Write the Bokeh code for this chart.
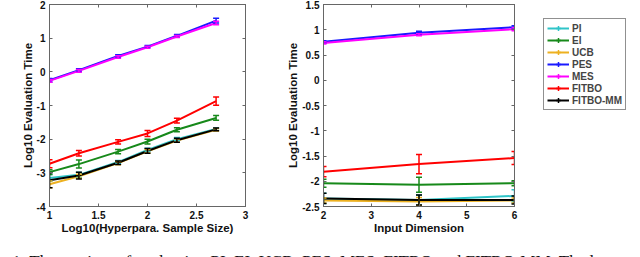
from bokeh.plotting import figure
from bokeh.layouts import row, column
from bokeh.models import (FixedTicker, PrintfTickFormatter, LinearAxis, Range1d,
                          Whisker, ColumnDataSource, TeeHead, Legend, LegendItem, Label)
from bokeh.embed import file_html
from bokeh.resources import INLINE

methods = ["PI", "EI", "UCB", "PES", "MES", "FITBO", "FITBO-MM"]
colors = ["#2fc4c8", "#17891a", "#edb120", "#1a1aff", "#ff00ff", "#ff0000", "#000000"]

# Left panel: log10(hyper-parameter sample size)
x_left = [1.0, 1.3, 1.7, 2.0, 2.3, 2.7]
left_vals = {
    "PI":       [-3.15, -3.06, -2.68, -2.32, -2.00, -1.70],
    "EI":       [-2.98, -2.74, -2.37, -2.07, -1.72, -1.37],
    "UCB":      [-3.34, -3.10, -2.71, -2.36, -2.04, -1.72],
    "PES":      [-0.25, 0.05, 0.47, 0.75, 1.07, 1.52],
    "MES":      [-0.27, 0.03, 0.44, 0.73, 1.05, 1.45],
    "FITBO":    [-2.73, -2.42, -2.08, -1.83, -1.45, -0.87],
    "FITBO-MM": [-3.22, -3.08, -2.70, -2.35, -2.03, -1.71],
}
left_errs = {
    "PI":       [0.10, 0.08, 0.05, 0.05, 0.05, 0.04],
    "EI":       [0.07, 0.12, 0.06, 0.07, 0.06, 0.07],
    "UCB":      [0.10, 0.06, 0.05, 0.05, 0.05, 0.04],
    "PES":      [0.05, 0.04, 0.04, 0.03, 0.04, 0.07],
    "MES":      [0.04, 0.04, 0.04, 0.03, 0.03, 0.05],
    "FITBO":    [0.12, 0.08, 0.06, 0.09, 0.07, 0.12],
    "FITBO-MM": [0.22, 0.10, 0.05, 0.07, 0.06, 0.04],
}

# Right panel: input dimension
x_right = [2, 4, 6]
right_vals = {
    "PI":       [-2.34, -2.37, -2.29],
    "EI":       [-2.04, -2.07, -2.04],
    "UCB":      [-2.38, -2.40, -2.38],
    "PES":      [0.76, 0.94, 1.05],
    "MES":      [0.74, 0.90, 1.01],
    "FITBO":    [-1.81, -1.66, -1.54],
    "FITBO-MM": [-2.34, -2.37, -2.37],
}
right_errs = {
    "PI":       [0.10, 0.10, 0.12],
    "EI":       [0.08, 0.15, 0.05],
    "UCB":      [0.05, 0.08, 0.05],
    "PES":      [0.02, 0.03, 0.03],
    "MES":      [0.02, 0.02, 0.03],
    "FITBO":    [0.10, 0.19, 0.13],
    "FITBO-MM": [0.10, 0.10, 0.08],
}

left_xticks = [1, 1.5, 2, 2.5, 3]
left_yticks = [-4, -3, -2, -1, 0, 1, 2]
right_xticks = [2, 3, 4, 5, 6]
right_yticks = [-2.5, -2, -1.5, -1, -0.5, 0, 0.5, 1, 1.5]

y_label = "Log10 Evaluation Time"
left_xlabel = "Log10(Hyperpara. Sample Size)"
right_xlabel = "Input Dimension"
caption = "Figure 1: The runtime of evaluating PI, EI, UCB, PES, MES, FITBO and FITBO-MM. The l"

FONT = "Liberation Sans"
AXC = "#666666"


def style_axis(ax, ticks, show_labels=True):
    ax.ticker = FixedTicker(ticks=ticks)
    ax.formatter = PrintfTickFormatter(format="%g")
    ax.major_tick_in = 3
    ax.major_tick_out = 0
    ax.minor_tick_line_color = None
    ax.axis_line_color = AXC
    ax.major_tick_line_color = AXC
    ax.major_label_text_font = FONT
    ax.major_label_text_font_style = "bold"
    ax.major_label_text_color = "#111111"
    if show_labels:
        ax.major_label_text_font_size = "10px"
        ax.major_label_standoff = 4
    else:
        ax.major_label_text_font_size = "0px"
        ax.major_label_standoff = 0
    ax.axis_label_text_font = FONT
    ax.axis_label_text_font_style = "bold"
    ax.axis_label_text_font_size = "11.5px"
    ax.axis_label_text_color = "#111111"
    ax.axis_label_standoff = 0


def make_panel(width, xr, yr, xticks, yticks, xlabel, bl, br, xs, vals, errs):
    p = figure(width=width, height=240, x_range=Range1d(*xr), y_range=Range1d(*yr),
               output_backend="svg", toolbar_location=None,
               min_border_left=bl, min_border_right=br, min_border_top=4, min_border_bottom=34)
    p.grid.visible = False
    p.outline_line_color = AXC
    p.background_fill_color = "white"
    p.border_fill_color = "white"
    style_axis(p.xaxis[0], xticks)
    style_axis(p.yaxis[0], yticks)
    p.xaxis.axis_label = xlabel
    p.yaxis.axis_label = y_label
    top = LinearAxis()
    style_axis(top, xticks, show_labels=False)
    p.add_layout(top, "above")
    rt = LinearAxis()
    style_axis(rt, yticks, show_labels=False)
    p.add_layout(rt, "right")
    for m, c in zip(methods, colors):
        y = vals[m]
        e = errs[m]
        src = ColumnDataSource(dict(x=xs, y=y,
                                    lo=[a - b for a, b in zip(y, e)],
                                    hi=[a + b for a, b in zip(y, e)]))
        w = Whisker(source=src, base="x", lower="lo", upper="hi",
                    line_color=c, line_width=1.5, level="glyph",
                    upper_head=TeeHead(size=6, line_color=c, line_width=1.5),
                    lower_head=TeeHead(size=6, line_color=c, line_width=1.5))
        p.add_layout(w)
        p.line(xs, y, line_color=c, line_width=2)
    return p


p1 = make_panel(284, (1, 3), (-4, 2), left_xticks, left_yticks, left_xlabel,
                49, 39, x_left, left_vals, left_errs)
p2 = make_panel(236, (2, 6), (-2.5, 1.5), right_xticks, right_yticks, right_xlabel,
                39, 6, x_right, right_vals, right_errs)

# Legend panel (its own small canvas so the box can sit right of the plot frame)
p3 = figure(width=120, height=240, output_backend="svg", toolbar_location=None,
            min_border=0, x_range=Range1d(0, 1), y_range=Range1d(0, 1))
p3.axis.visible = False
p3.grid.visible = False
p3.outline_line_color = None
items = []
for m, c in zip(methods, colors):
    ln = p3.line(x=[0.0, 1.0], y=[-5.0, -5.0], line_color=c, line_width=2)
    bar = p3.scatter(x=[0.5], y=[-5.0], marker="cross", size=5, line_color=c, line_width=1.5)
    items.append(LegendItem(label=m, renderers=[ln, bar]))
legend = Legend(items=items, location=(23, 96), border_line_color="#222222",
                border_line_width=1, background_fill_color="white", background_fill_alpha=1,
                padding=3, spacing=0, margin=0, label_text_font=FONT,
                label_text_font_style="bold", label_text_font_size="10px",
                label_standoff=3, glyph_width=22, glyph_height=12, label_height=12)
p3.add_layout(legend)

pc = figure(width=640, height=17, output_backend="svg", toolbar_location=None,
            min_border=0, x_range=Range1d(0, 1), y_range=Range1d(0, 1))
pc.axis.visible = False
pc.grid.visible = False
pc.outline_line_color = None
pc.add_layout(Label(x=-37, y=-4, x_units="screen", y_units="screen", text=caption,
                    text_font="Liberation Serif", text_font_size="17px",
                    text_baseline="alphabetic", text_color="#111111"))

root = column(row(p1, p2, p3), pc)

open("out.html", "w").write(file_html(root, INLINE))
